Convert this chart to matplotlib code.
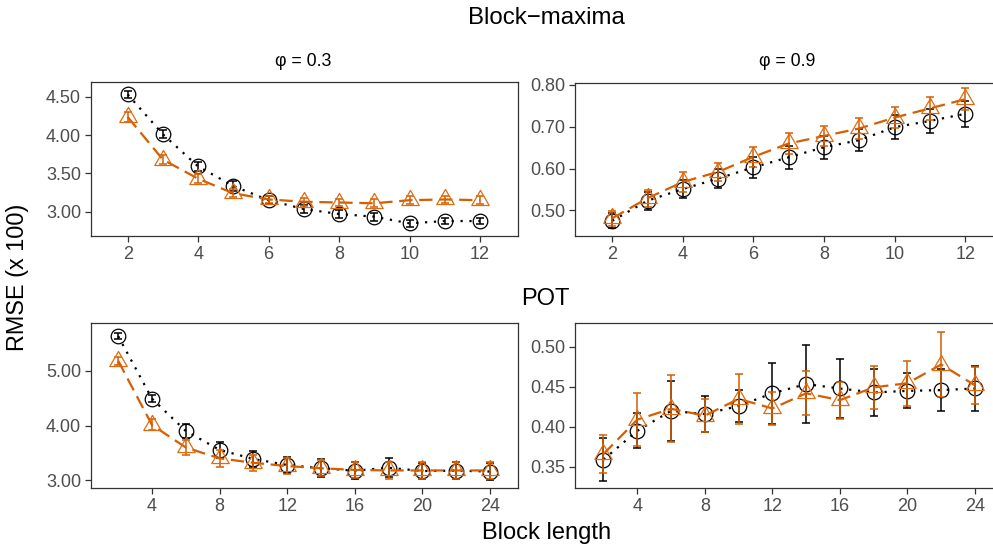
import matplotlib
matplotlib.use("Agg")
import matplotlib.pyplot as plt
import numpy as np
from matplotlib.path import Path
from matplotlib.ticker import FormatStrFormatter

plt.rcParams["font.family"] = ["Liberation Sans", "DejaVu Sans"]

# ---- data (RMSE x 100) ----
bm_x = [2, 3, 4, 5, 6, 7, 8, 9, 10, 11, 12]
pot_x = [2, 4, 6, 8, 10, 12, 14, 16, 18, 20, 22, 24]

# Block-maxima, phi = 0.3
bm03_black = [4.53, 4.01, 3.59, 3.335, 3.15, 3.035, 2.97, 2.935, 2.848, 2.878, 2.878]
bm03_black_err = [0.05, 0.05, 0.06, 0.06, 0.05, 0.05, 0.05, 0.05, 0.05, 0.04, 0.04]
bm03_orange = [4.235, 3.68, 3.43, 3.24, 3.16, 3.13, 3.12, 3.11, 3.15, 3.16, 3.15]
bm03_orange_err = [0.06, 0.06, 0.06, 0.05, 0.05, 0.05, 0.05, 0.05, 0.05, 0.05, 0.05]

# Block-maxima, phi = 0.9
bm09_black = [0.475, 0.523, 0.551, 0.576, 0.603, 0.627, 0.651, 0.668, 0.699, 0.714, 0.731]
bm09_black_err = [0.018, 0.022, 0.022, 0.022, 0.025, 0.027, 0.027, 0.027, 0.028, 0.029, 0.031]
bm09_orange = [0.481, 0.529, 0.568, 0.592, 0.628, 0.660, 0.678, 0.696, 0.722, 0.744, 0.766]
bm09_orange_err = [0.018, 0.020, 0.023, 0.022, 0.024, 0.025, 0.025, 0.026, 0.026, 0.027, 0.026]

# POT, phi = 0.3
pot03_black = [5.63, 4.49, 3.90, 3.555, 3.39, 3.28, 3.22, 3.176, 3.23, 3.17, 3.176, 3.16]
pot03_black_err = [0.05, 0.07, 0.12, 0.15, 0.15, 0.15, 0.16, 0.15, 0.17, 0.15, 0.15, 0.16]
pot03_orange = [5.18, 4.01, 3.60, 3.40, 3.32, 3.26, 3.22, 3.19, 3.18, 3.18, 3.18, 3.18]
pot03_orange_err = [0.07, 0.10, 0.14, 0.15, 0.15, 0.15, 0.15, 0.14, 0.15, 0.15, 0.15, 0.15]

# POT, phi = 0.9
pot09_black = [0.359, 0.395, 0.420, 0.416, 0.426, 0.442, 0.4535, 0.448, 0.443, 0.445, 0.446, 0.448]
pot09_black_err = [0.027, 0.022, 0.038, 0.023, 0.02, 0.038, 0.049, 0.037, 0.030, 0.022, 0.026, 0.028]
pot09_orange = [0.366, 0.409, 0.4226, 0.414, 0.435, 0.423, 0.442, 0.4334, 0.4494, 0.4546, 0.478, 0.452]
pot09_orange_err = [0.024, 0.033, 0.042, 0.021, 0.031, 0.021, 0.0275, 0.023, 0.027, 0.028, 0.041, 0.023]

ORANGE = "#D55E00"
W, H = 993, 549

# R-style triangle (centred on the centroid)
tri = Path([(0, 1), (-0.866, -0.5), (0.866, -0.5), (0, 1)],
           [Path.MOVETO, Path.LINETO, Path.LINETO, Path.CLOSEPOLY])

fig = plt.figure(figsize=(W / 100, H / 100), dpi=100)


def add_panel(x0, y0, x1, y1):
    return fig.add_axes([x0 / W, 1 - y1 / H, (x1 - x0) / W, (y1 - y0) / H])


def draw(ax, x, black, black_err, orange, orange_err):
    ax.errorbar(x, black, yerr=black_err, fmt="none", ecolor="black",
                elinewidth=1.1, capsize=3, capthick=1.1, zorder=2)
    ax.plot(x, black, color="black", linestyle=(0, (1, 3)), linewidth=1.6,
            zorder=3)
    ax.plot(x, black, linestyle="none", marker="o", markersize=10.5,
            markerfacecolor="none", markeredgecolor="black",
            markeredgewidth=0.9, zorder=4)
    ax.errorbar(x, orange, yerr=orange_err, fmt="none", ecolor=ORANGE,
                elinewidth=1.1, capsize=3, capthick=1.1, zorder=5)
    ax.plot(x, orange, color=ORANGE, linestyle=(0, (6, 3)), linewidth=1.6,
            zorder=6)
    ax.plot(x, orange, linestyle="none", marker=tri, markersize=14.5,
            markerfacecolor="none", markeredgecolor="#E06A10",
            markeredgewidth=0.9, zorder=7)
    for s in ax.spines.values():
        s.set_color("#333333")
        s.set_linewidth(0.9)
    ax.tick_params(axis="both", colors="#333333", length=4, width=0.9,
                   labelsize=13, labelcolor="#4D4D4D", pad=3)
    ax.yaxis.set_major_formatter(FormatStrFormatter("%.2f"))


ax1 = add_panel(90.7, 81.7, 518, 236)
draw(ax1, bm_x, bm03_black, bm03_black_err, bm03_orange, bm03_orange_err)
ax1.set_xlim(0.95, 13.08)
ax1.set_ylim(2.683, 4.696)
ax1.set_xticks([2, 4, 6, 8, 10, 12])
ax1.set_yticks([3.0, 3.5, 4.0, 4.5])

ax2 = add_panel(575.3, 82.7, 1003, 236)
draw(ax2, bm_x, bm09_black, bm09_black_err, bm09_orange, bm09_orange_err)
ax2.set_xlim(0.953, 13.07)
ax2.set_ylim(0.4385, 0.8055)
ax2.set_xticks([2, 4, 6, 8, 10, 12])
ax2.set_yticks([0.5, 0.6, 0.7, 0.8])

ax3 = add_panel(90.7, 323, 518, 488)
draw(ax3, pot_x, pot03_black, pot03_black_err, pot03_orange, pot03_orange_err)
ax3.set_xlim(0.373, 25.66)
ax3.set_ylim(2.86, 5.87)
ax3.set_xticks([4, 8, 12, 16, 20, 24])
ax3.set_yticks([3.0, 4.0, 5.0])

ax4 = add_panel(575.3, 323, 1003, 488)
draw(ax4, pot_x, pot09_black, pot09_black_err, pot09_orange, pot09_orange_err)
ax4.set_xlim(0.33, 25.66)
ax4.set_ylim(0.3234, 0.530)
ax4.set_xticks([4, 8, 12, 16, 20, 24])
ax4.set_yticks([0.35, 0.40, 0.45, 0.50])

fig.text(546 / W, 1 - 18 / H, "Block\u2212maxima", ha="center", va="center",
         fontsize=17.3)
fig.text(303.5 / W, 1 - 61.5 / H, "\u03c6 = 0.3", ha="center", va="center",
         fontsize=12.8)
fig.text(787 / W, 1 - 61.5 / H, "\u03c6 = 0.9", ha="center", va="center",
         fontsize=12.8)
fig.text(545.5 / W, 1 - 299 / H, "POT", ha="center", va="center",
         fontsize=17)
fig.text(546.5 / W, 1 - 533 / H, "Block length", ha="center", va="center",
         fontsize=17)
fig.text(18 / W, 1 - 277 / H, "RMSE (x 100)", ha="center", va="center",
         rotation=90, fontsize=16.8)

fig.savefig("out.png", dpi=100)
